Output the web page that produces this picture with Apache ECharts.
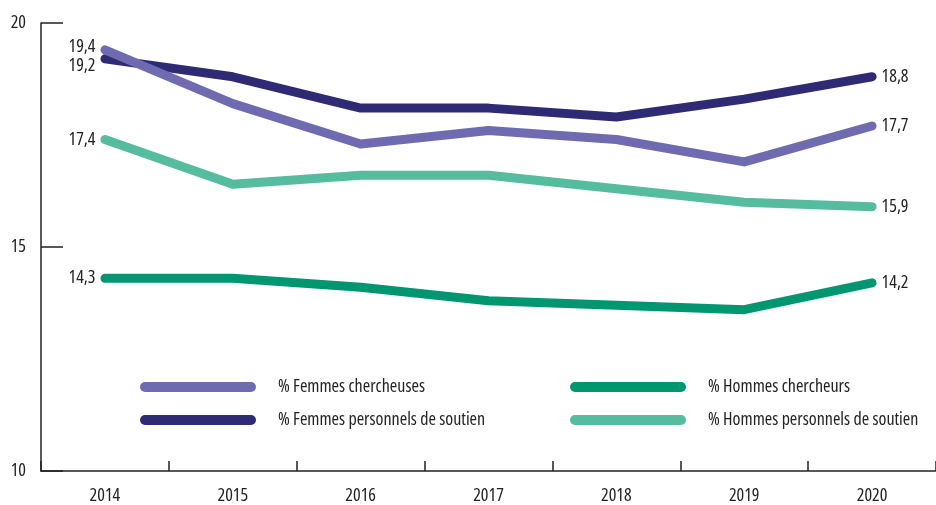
<!DOCTYPE html>
<html>
<head>
<meta charset="utf-8">
<script src="https://cdn.jsdelivr.net/npm/echarts@6/dist/echarts.min.js"></script>
<style>
  html, body { margin: 0; padding: 0; background: #fff; }
  #chart { width: 936px; height: 505px; }
</style>
</head>
<body>
<div id="chart"></div>
<script>
// Years on the horizontal axis
const years = ['2014', '2015', '2016', '2017', '2018', '2019', '2020'];

// Shares (%) per group and year
const femmesChercheuses = [19.4, 18.2, 17.3, 17.6, 17.4, 16.9, 17.7];
const femmesSoutien     = [19.2, 18.8, 18.1, 18.1, 17.9, 18.3, 18.8];
const hommesChercheurs  = [14.3, 14.3, 14.1, 13.8, 13.7, 13.6, 14.2];
const hommesSoutien     = [17.4, 16.4, 16.6, 16.6, 16.3, 16.0, 15.9];

// Value axis ticks
const yTicks = [10, 15, 20];

// Narrow face: Open Sans at its condensed width
const FONT = '"Open Sans", sans-serif';
const STRETCH = 'condensed';
const TEXT = '#222222';

const fmt = v => v.toFixed(1).replace('.', ',');

// Only the first and last points carry a value label;
// startShift nudges the left label vertically so close starts stay legible
function withEndLabels(values, startShift) {
  return values.map((v, i) => {
    if (i === 0) {
      return { value: v, label: { show: true, position: 'left', distance: 9, offset: [0, startShift || 0] } };
    }
    if (i === values.length - 1) {
      return { value: v, label: { show: true, position: 'right', distance: 9 } };
    }
    return v;
  });
}

function lineSeries(name, values, color, startShift) {
  return {
    name: name,
    type: 'line',
    data: withEndLabels(values, startShift),
    symbol: 'circle',
    symbolSize: 1,
    showSymbol: true,
    showAllSymbol: true,
    smooth: false,
    lineStyle: { width: 9, color: color, cap: 'round', join: 'round' },
    itemStyle: { color: color },
    label: {
      show: false,
      formatter: p => fmt(p.value),
      fontFamily: FONT,
      fontStyle: STRETCH,
      fontSize: 18,
      color: TEXT
    },
    emphasis: { disabled: true },
    animation: false
  };
}

const capsule = 'path://M5,0 L111,0 A5,5 0 0 1 111,10 L5,10 A5,5 0 0 1 5,0 Z';

const legendBase = {
  orient: 'vertical',
  icon: capsule,
  itemWidth: 116,
  itemHeight: 10,
  itemGap: 13,
  padding: 0,
  selectedMode: false,
  textStyle: {
    fontFamily: FONT,
    fontStyle: STRETCH,
    fontSize: 18,
    color: TEXT,
    lineHeight: 20,
    padding: [0, 0, 0, 17]
  }
};

const chart = echarts.init(document.getElementById('chart'), null, { renderer: 'canvas' });

chart.setOption({
  backgroundColor: '#ffffff',
  animation: false,
  grid: { left: 41, right: 0, top: 23, bottom: 34, containLabel: false },
  legend: [
    Object.assign({}, legendBase, {
      left: 140, top: 377,
      data: ['% Femmes chercheuses', '% Femmes personnels de soutien']
    }),
    Object.assign({}, legendBase, {
      left: 570, top: 377,
      data: ['% Hommes chercheurs', '% Hommes personnels de soutien']
    })
  ],
  xAxis: {
    type: 'category',
    data: years,
    boundaryGap: true,
    axisLine: { show: true, lineStyle: { color: '#222', width: 1.5 } },
    axisTick: { show: true, inside: true, length: 10, lineStyle: { color: '#222', width: 1.5 } },
    axisLabel: { fontFamily: FONT, fontStyle: STRETCH, fontSize: 18, color: TEXT, margin: 16 },
    splitLine: { show: false }
  },
  yAxis: {
    type: 'value',
    min: yTicks[0],
    max: yTicks[yTicks.length - 1],
    interval: yTicks[1] - yTicks[0],
    axisLine: { show: true, lineStyle: { color: '#222', width: 1.5 } },
    axisTick: { show: true, inside: true, length: 22, lineStyle: { color: '#222', width: 1.5 } },
    axisLabel: { fontFamily: FONT, fontStyle: STRETCH, fontSize: 18, color: TEXT, margin: 15 },
    splitLine: { show: false }
  },
  series: [
    lineSeries('% Hommes chercheurs', hommesChercheurs, '#00966f'),
    lineSeries('% Hommes personnels de soutien', hommesSoutien, '#55bc9f'),
    lineSeries('% Femmes personnels de soutien', femmesSoutien, '#2f2a74', 7),
    lineSeries('% Femmes chercheuses', femmesChercheuses, '#6f6bb0', -3)
  ]
});
</script>
</body>
</html>
